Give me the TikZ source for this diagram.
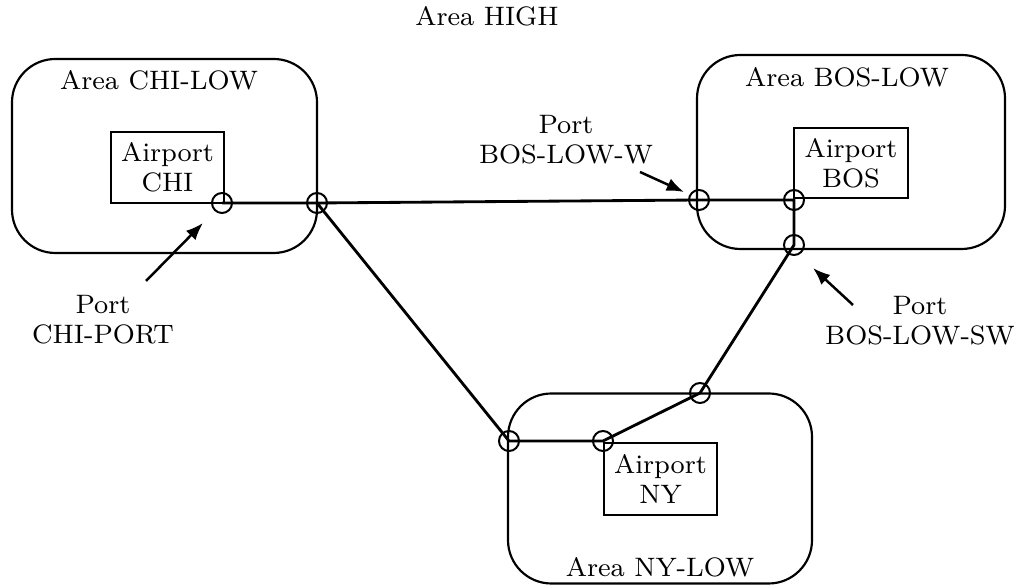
\documentclass[tikz,border=0pt]{standalone}
\usetikzlibrary{arrows.meta}
\begin{document}
\begin{tikzpicture}[x=0.3pt,y=-0.3pt,
  lbl/.style={font=\fontsize{8}{9}\selectfont, inner sep=0pt},
  twoline/.style={lbl, align=center},
  areabox/.style={draw, line width=0.65pt, rounded corners=13pt, inner sep=0pt},
  apbox/.style={draw, line width=0.55pt, inner sep=0pt, align=center, font=\fontsize{8}{9}\selectfont},
  port/.style={draw, circle, line width=0.6pt, minimum size=6pt, inner sep=0pt},
  route/.style={line width=0.85pt},
  pointer/.style={line width=0.75pt, -{Latex[length=5.2pt,width=4pt]}}
]
\useasboundingbox (0,0) rectangle (1018,586);

% areas
\node[areabox, minimum width=91.5pt, minimum height=58.2pt] (chiA) at (164.5,156) {};
\node[areabox, minimum width=92.4pt, minimum height=58.2pt] (bosA) at (851,152) {};
\node[areabox, minimum width=91.2pt, minimum height=57.0pt] (nyA) at (660,488.5) {};

% area labels
\node[lbl, anchor=base] (high) at (487,26) {Area HIGH};
\node[lbl, anchor=base] (chiL) at (159,90) {Area CHI-LOW};
\node[lbl, anchor=base] (bosL) at (847,87) {Area BOS-LOW};
\node[lbl, anchor=base] (nyL) at (660,577) {Area NY-LOW};

% airports
\node[apbox, minimum width=33.9pt, minimum height=21.3pt] (chiP) at (167.5,167.5) {Airport\\CHI};
\node[apbox, minimum width=34.2pt, minimum height=21pt] (bosP) at (851,163) {Airport\\BOS};
\node[apbox, minimum width=33.9pt, minimum height=21.6pt] (nyP) at (660.5,479) {Airport\\NY};

% ports
\node[port] (p1) at (222,203) {};
\node[port] (p2) at (317,203) {};
\node[port] (p3) at (699,200) {};
\node[port] (p4) at (794,200) {};
\node[port] (p5) at (794,245) {};
\node[port] (p6) at (700,393) {};
\node[port] (p7) at (603,441) {};
\node[port] (p8) at (509,441) {};

% route
\draw[route] (p1.center) -- (p2.center) -- (p3.center) -- (p4.center) -- (p5.center)
  -- (p6.center) -- (p7.center) -- (p8.center) -- (p2.center);

% port labels
\node[twoline] (chiPort) at (103,320) {Port\\CHI-PORT};
\node[twoline] (bosW) at (566,140) {Port\\BOS-LOW-W};
\node[twoline] (bosSW) at (920,321) {Port\\BOS-LOW-SW};

% pointers
\coordinate (a1s) at (146,281);
\coordinate (a1e) at (203,223);
\coordinate (a2s) at (640,172);
\coordinate (a2e) at (684,192);
\coordinate (a3s) at (853,305);
\coordinate (a3e) at (813,268);
\draw[pointer] (a1s) -- (a1e);
\draw[pointer] (a2s) -- (a2e);
\draw[pointer] (a3s) -- (a3e);
\end{tikzpicture}
\end{document}
